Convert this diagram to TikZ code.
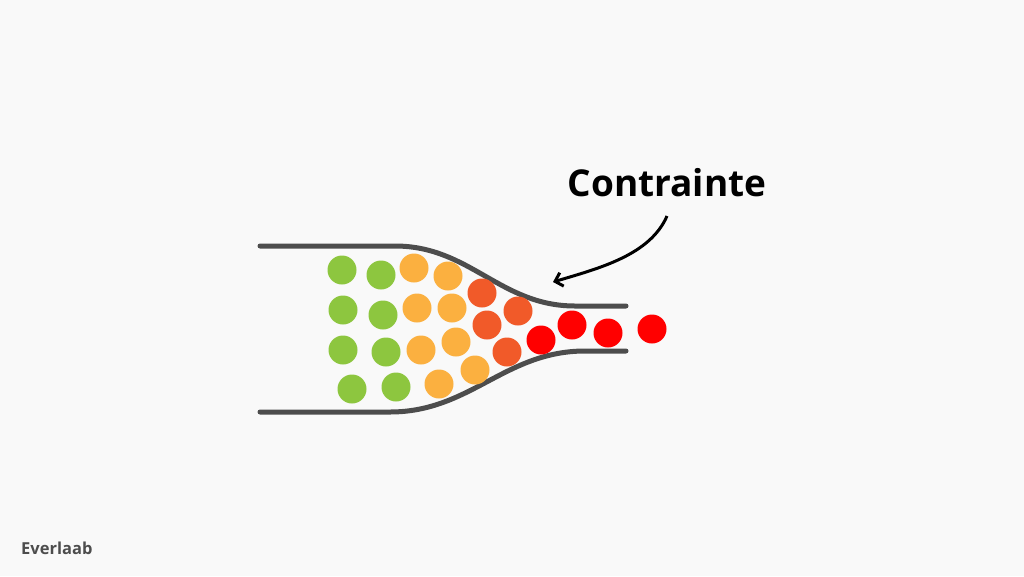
\documentclass[tikz,border=0pt]{standalone}
\usepackage{fontspec}
\setmainfont{Open Sans}
\usetikzlibrary{arrows.meta}
\definecolor{bg}{HTML}{F9F9F9}
\definecolor{wall}{HTML}{4D4D4D}
\definecolor{cgreen}{HTML}{8DC63F}
\definecolor{corange}{HTML}{FBB040}
\definecolor{cdark}{HTML}{F15A29}
\definecolor{cred}{HTML}{FF0000}
\begin{document}
\begin{tikzpicture}[x=1pt, y=-1pt,
    grain/.style={circle, inner sep=0pt, minimum size=29pt},
    wallline/.style={draw=wall, line width=5pt, line cap=round},
    pointer/.style={draw=black, line width=3pt, -{Straight Barb[length=7pt, width=14pt]}}]
    \fill[bg] (0,0) rectangle (1024,576);
    \useasboundingbox (0,0) rectangle (1024,576);
    % funnel walls
    \draw[wallline] (260,246) -- (395,246) .. controls (470,246) and (500,306) .. (575,306) -- (626,306);
    \draw[wallline] (260,412) -- (390,412) .. controls (470,412) and (505,351) .. (585,351) -- (626,351);
    % grains
    \foreach \i/\x/\y in {1/342/270, 2/381/275, 3/343/310, 4/383/315, 5/343/350, 6/386/352, 7/352/389, 8/396/387}
        \node[grain, fill=cgreen] (g\i) at (\x,\y) {};
    \foreach \i/\x/\y in {1/414/268, 2/448/276, 3/417/308, 4/452/308, 5/421/350, 6/456/342, 7/439/384, 8/475/370}
        \node[grain, fill=corange] (o\i) at (\x,\y) {};
    \foreach \i/\x/\y in {1/482/293, 2/518/311, 3/487/325, 4/507/352}
        \node[grain, fill=cdark] (d\i) at (\x,\y) {};
    \foreach \i/\x/\y in {1/541/340, 2/572/325, 3/608/333, 4/652/329}
        \node[grain, fill=cred] (r\i) at (\x,\y) {};
    % label
    \node[font=\bfseries\fontsize{37}{44}\selectfont] (contrainte) at (667,183) {Contrainte};
    \coordinate (start) at (667,216);
    \coordinate (neck) at (553,282);
    \draw[pointer] (start) .. controls (650,255) and (600,268) .. (neck);
    \node[font=\bfseries\fontsize{16.5}{20}\selectfont, text=wall, anchor=west, inner sep=0pt] (brand) at (21,548) {Everlaab};
\end{tikzpicture}
\end{document}
